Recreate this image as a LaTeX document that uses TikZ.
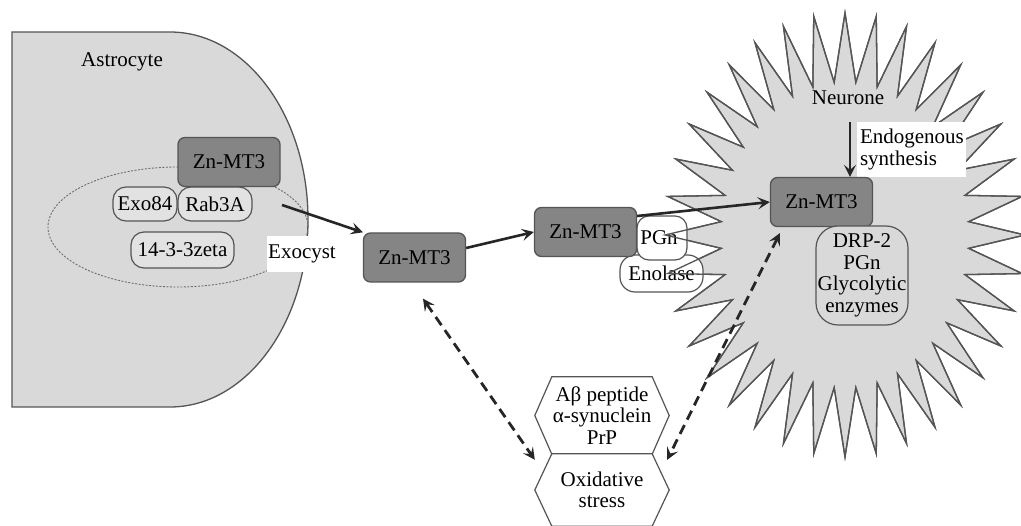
\documentclass[tikz,border=0pt]{standalone}
\usepackage{fontspec}
\setmainfont{Liberation Serif}
\usetikzlibrary{arrows.meta,shapes.geometric,calc}
\definecolor{cellfill}{HTML}{D9D9D9}
\definecolor{pillfill}{HTML}{E2E2E2}
\definecolor{mtfill}{HTML}{858585}
\definecolor{edgecol}{HTML}{555555}
\begin{document}
\begin{tikzpicture}[x=1pt,y=-1pt,
  font=\fontsize{21}{21.5}\selectfont,
  cell/.style={draw=edgecol, line width=1.3pt, fill=cellfill},
  starline/.style={draw=edgecol, line width=1.3pt, line join=miter},
  mtbox/.style={draw=edgecol, line width=1.3pt, fill=mtfill, rounded corners=7pt,
    minimum width=102pt, minimum height=49pt, inner sep=0pt},
  pill/.style={draw=edgecol, line width=1.2pt, fill=pillfill, rounded corners=13pt, inner sep=0pt},
  whitepill/.style={pill, fill=white},
  whitelabel/.style={fill=white, inner sep=0pt},
  hexcore/.style={draw=none, inner sep=0pt, align=center},
  hexline/.style={draw=edgecol, line width=1.2pt, fill=white, line join=miter},
  flow/.style={line width=2.6pt, color=black!85, -{Stealth[length=12pt,width=12pt,inset=5pt]}},
  link/.style={line width=2.8pt, color=black!85, dash pattern=on 10pt off 6pt,
    {Stealth[length=12pt,width=12pt,inset=5pt]}-{Stealth[length=12pt,width=12pt,inset=5pt]}}
]
\useasboundingbox (0,0) rectangle (1021,526);

% Astrocyte
\path[cell] (12,32) -- (170,32) .. controls (246.2,32) and (308,116) .. (308,219.5)
  .. controls (308,323) and (246.2,407) .. (170,407) -- (12,407) -- cycle;
\node[ellipse, draw=edgecol!85, dash pattern=on 2pt off 1.5pt, line width=0.9pt,
  minimum width=260pt, minimum height=120pt, inner sep=0pt] (exoEll) at (178,227) {};
\node (astroLbl) at (122,62) {Astrocyte};
\node[pill, minimum width=64pt, minimum height=34pt] (exo84) at (145,204) {Exo84};
\node[pill, minimum width=74pt, minimum height=34pt] (rab) at (215,204) {Rab3A};
\node[pill, minimum width=103pt, minimum height=36pt] (zeta) at (182.5,250) {14-3-3zeta};
\node[mtbox] (zA) at (229,162) {Zn-MT3};
\node[whitelabel, minimum width=70pt, minimum height=36pt] (exoLbl) at (302,254) {Exocyst};

% Neurone star
\path[starline, fill=cellfill] (1025,235) \foreach \k in {1,...,71}{
  -- ({845+ifthenelse(isodd(\k),0.69,1)*180*cos(5*\k)},{235-ifthenelse(isodd(\k),0.69,1)*222*sin(5*\k)}) } -- cycle;
\node[whitepill, rounded corners=15pt, minimum width=83pt, minimum height=37pt] (eno) at (661.5,273.5) {Enolase};
\node[whitepill, rounded corners=12pt, minimum width=50pt, minimum height=44pt] (pgn) at (662,238) {\hspace*{-6pt}PGn};
\path[starline] (1025,235) \foreach \k in {1,...,71}{
  -- ({845+ifthenelse(isodd(\k),0.69,1)*180*cos(5*\k)},{235-ifthenelse(isodd(\k),0.69,1)*222*sin(5*\k)}) } -- cycle;

\node (neuLbl) at (848,98) {Neurone};
\node[whitelabel, minimum width=109pt, minimum height=55pt, align=left, text width=103pt] (endoLbl) at (911.5,149.5) {Endogenous\\synthesis};

% Zn-MT3 boxes
\node[mtbox] (zM) at (414.5,257.5) {Zn-MT3};
\node[mtbox] (z2) at (585.5,232) {Zn-MT3};
\node[mtbox] (z3) at (821.5,202) {Zn-MT3};
\node[pill, fill=cellfill, rounded corners=22pt, minimum width=92pt, minimum height=99pt, align=center] (drp) at (862,275.5) {DRP-2\\PGn\\Glycolytic\\enzymes};

% Hexagons
\node[hexcore, minimum width=100pt, minimum height=77pt] (hexA) at (602,415.5) {};
\node[hexcore, minimum width=100pt, minimum height=72pt] (hexB) at (602,490) {};
\path[hexline] (hexA.north west) -- (hexA.north east) -- ($(hexA.east)+(17,0)$) -- (hexA.south east)
  -- (hexA.south west) -- ($(hexA.west)+(-17,0)$) -- cycle;
\path[hexline] (hexB.north west) -- (hexB.north east) -- ($(hexB.east)+(17,0)$) -- (hexB.south east)
  -- (hexB.south west) -- ($(hexB.west)+(-17,0)$) -- cycle;
\node[align=center] (hexAtxt) at (hexA.center) {Aβ peptide\\α-synuclein\\PrP};
\node[align=center] (hexBtxt) at (hexB.center) {Oxidative\\stress};

% Connectors
\coordinate (exoStart) at (282,205);
\coordinate (endoStart) at (850,122);
\draw[flow] (exoStart) -- (zM.north west);
\draw[flow] ([yshift=9.5pt]zM.east) -- (z2.west);
\draw[flow] ([yshift=16pt]z2.east) -- (z3.west);
\draw[flow] (endoStart) -- (endoStart |- z3.north);
\draw[link] ([xshift=8.5pt,yshift=-16pt]zM.south) -- ([xshift=-17pt,yshift=-6pt]hexB.north west);
\draw[link] ([xshift=10pt,yshift=-6pt]z3.south west) -- ([xshift=15pt,yshift=-6pt]hexB.north east);
\end{tikzpicture}
\end{document}
